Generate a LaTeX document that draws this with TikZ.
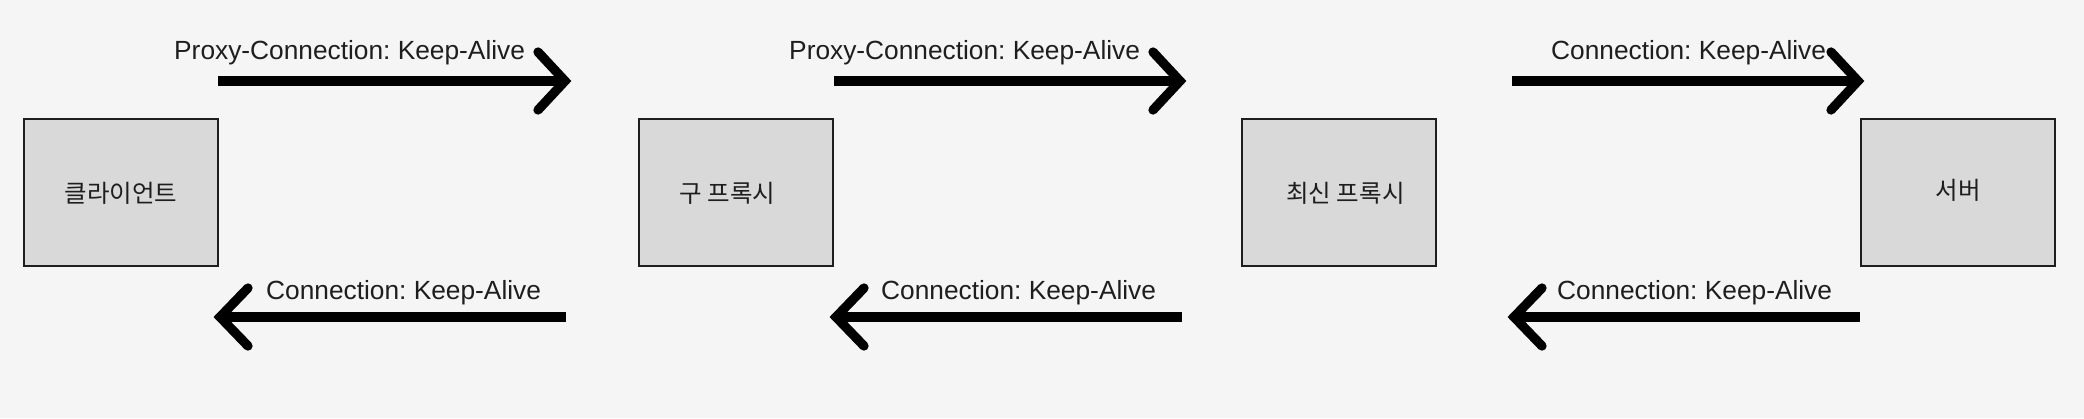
\documentclass[tikz,border=0pt]{standalone}
\usepackage{fontspec}
\setmainfont{Liberation Sans}
\newfontfamily\krfont{Noto Sans CJK KR}
\definecolor{bgc}{HTML}{F5F5F5}
\definecolor{boxc}{HTML}{D9D9D9}
\definecolor{inkc}{HTML}{1E1E1E}
\frenchspacing
\begin{document}
\begin{tikzpicture}[x=1pt,y=-1pt,
  boxnode/.style={draw=inkc,fill=boxc,line width=2pt,minimum width=194pt,minimum height=147pt,inner sep=0pt,outer sep=0pt},
  boxtext/.style={anchor=base,inner sep=0pt,font=\krfont\fontsize{24.5}{28}\selectfont,text=inkc},
  lbl/.style={anchor=base west,inner sep=0pt,font=\fontsize{26.3}{30}\selectfont,text=inkc},
  shaft/.style={line width=9.3pt,line cap=butt,draw=black},
  chev/.style={line width=9.3pt,line cap=round,line join=miter,draw=black}]
\fill[bgc] (0,0) rectangle (2084,418);
\useasboundingbox (0,0) rectangle (2084,418);
% boxes
\node[boxnode] (b1) at (121,192.5) {};
\node[boxnode] (b2) at (735.5,192.5) {};
\node[boxnode] (b3) at (1339,192.5) {};
\node[boxnode] (b4) at (1958,192.5) {};
\node[boxtext] (t1) at (121,202.5) {클라이언트};
\node[boxtext] (t2) at (727.5,202.5) {구 프록시};
\node[boxtext] (t3) at (1345.5,202.5) {최신 프록시};
\node[boxtext] (t4) at (1958,199.5) {서버};
% arrow end points
\coordinate (s1) at (218,81);  \coordinate (h1) at (565,81);
\coordinate (s2) at (834,81);  \coordinate (h2) at (1180,81);
\coordinate (s3) at (1512,81); \coordinate (h3) at (1858,81);
\coordinate (r1) at (566,317);  \coordinate (k1) at (220,317);
\coordinate (r2) at (1182,317); \coordinate (k2) at (836,317);
\coordinate (r3) at (1860,317); \coordinate (k3) at (1514,317);
% rightward arrows
\foreach \s/\h in {s1/h1,s2/h2,s3/h3}{
  \draw[shaft] (\s) -- (\h);
  \draw[chev] ([shift={(-27,-29)}]\h) -- (\h) -- ([shift={(-27,29)}]\h);
}
% leftward arrows
\foreach \r/\k in {r1/k1,r2/k2,r3/k3}{
  \draw[shaft] (\r) -- (\k);
  \draw[chev] ([shift={(28,-29)}]\k) -- (\k) -- ([shift={(28,29)}]\k);
}
% labels
\node[lbl] (l1) at (174,59) {Proxy-Connection: Keep-Alive};
\node[lbl] (l2) at (789,59) {Proxy-Connection: Keep-Alive};
\node[lbl] (l3) at (1551,59) {Connection: Keep-Alive};
\node[lbl] (l4) at (266,299) {Connection: Keep-Alive};
\node[lbl] (l5) at (881,299) {Connection: Keep-Alive};
\node[lbl] (l6) at (1557,299) {Connection: Keep-Alive};
\end{tikzpicture}
\end{document}
